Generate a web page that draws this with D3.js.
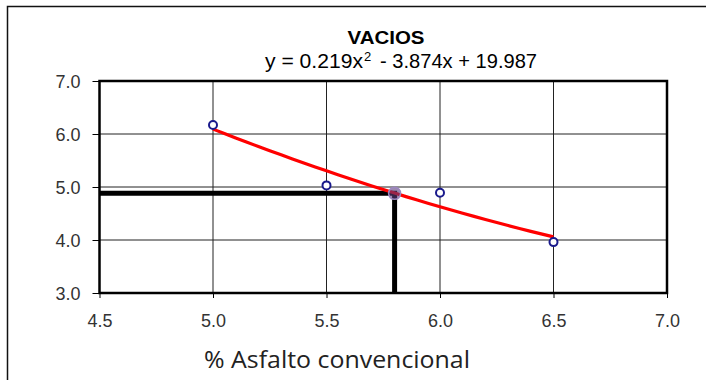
<!DOCTYPE html>
<html><head><meta charset="utf-8">
<script src="https://cdn.jsdelivr.net/npm/d3@7"></script>
<style>body{margin:0;background:#fff}svg{display:block}</style>
</head><body>
<svg id="c" width="710" height="380"></svg>
<script>
const pointsX = [5.0, 5.5, 6.0, 6.5];
const pointsY = [6.17, 5.03, 4.89, 3.96];
const coef = [0.219, -3.874, 19.987];
const optX = 5.8, optY = 4.88;
const xTicks = [4.5, 5.0, 5.5, 6.0, 6.5, 7.0];
const yTicks = [3.0, 4.0, 5.0, 6.0, 7.0];
const title = "VACIOS";
const xLabel = "% Asfalto convencional";

const svg = d3.select("#c");
const L = 99.5, R = 667, T = 81, B = 293;
const x = d3.scaleLinear().domain([4.5, 7.0]).range([L, R]);
const y = d3.scaleLinear().domain([3.0, 7.0]).range([B, T]);
const sans = "Liberation Sans, Arial, sans-serif";

// outer frame
svg.append("path").attr("d", "M7.5,380 V6.5 H706").attr("fill","none").attr("stroke","#111").attr("stroke-width",1.5);

// gridlines
const g = svg.append("g");
g.selectAll(".vg").data(xTicks.slice(1,-1)).enter().append("line")
  .attr("x1", d=>x(d)).attr("x2", d=>x(d)).attr("y1", T).attr("y2", B)
  .attr("stroke","#222").attr("stroke-width",1);
g.selectAll(".hg").data(yTicks.slice(1,-1)).enter().append("line")
  .attr("y1", d=>y(d)).attr("y2", d=>y(d)).attr("x1", L).attr("x2", R)
  .attr("stroke","#222").attr("stroke-width",1);

// axes
const xAxis = d3.axisBottom(x).tickValues(xTicks).tickFormat(d3.format(".1f")).tickSize(5).tickSizeOuter(0);
const yAxis = d3.axisLeft(y).tickValues(yTicks).tickFormat(d3.format(".1f")).tickSize(7).tickSizeOuter(0);
const ax = svg.append("g").attr("transform",`translate(0,${B})`).call(xAxis);
const ay = svg.append("g").attr("transform",`translate(${L},0)`).call(yAxis);
[ax, ay].forEach(a => {
  a.attr("font-size", null).attr("font-family", null);
  a.select(".domain").remove();
  a.selectAll("line").attr("stroke","#000").attr("stroke-width",1);
  a.selectAll("text").style("font-family",sans).style("font-size","19px").attr("fill","#333")
    .attr("textLength",25).attr("lengthAdjust","spacingAndGlyphs");
});
ax.selectAll("text").attr("dy",null).attr("y", 34);
ay.selectAll("text").attr("x", -19).attr("dy","0.36em");

// plot border
svg.append("rect").attr("x",L).attr("y",T).attr("width",R-L).attr("height",B-T)
  .attr("fill","none").attr("stroke","#000").attr("stroke-width",2.5);

// optimum lines
svg.append("path")
  .attr("d", `M${x(4.5)},${y(optY)} H${x(optX)} V${y(3.0)}`)
  .attr("fill","none").attr("stroke","#000").attr("stroke-width",5);

// fitted curve
const f = v => coef[0]*v*v + coef[1]*v + coef[2];
const curveX = d3.range(5.0, 6.5001, 0.05);
svg.append("path").datum(curveX)
  .attr("d", d3.line().x(d=>x(d)).y(d=>y(f(d))))
  .attr("fill","none").attr("stroke","#ff0000").attr("stroke-width",3.2);

// highlighted optimum
svg.append("circle").attr("cx",x(optX)).attr("cy",y(optY)).attr("r",6)
  .attr("fill","#5a3a7a").attr("fill-opacity",0.6).attr("stroke","#9c86c0").attr("stroke-width",1.5);

// data points
svg.selectAll(".pt").data(pointsX).enter().append("circle")
  .attr("cx", d=>x(d)).attr("cy", (d,i)=>y(pointsY[i])).attr("r",4)
  .attr("fill","#fff").attr("stroke","#1a1a8c").attr("stroke-width",2);

// title & equation
svg.append("text").attr("x",386).attr("y",44).attr("text-anchor","middle")
  .attr("font-family",sans).attr("font-weight","bold").attr("font-size",17.5)
  .attr("textLength",77).attr("lengthAdjust","spacingAndGlyphs").attr("fill","#000").text(title);
const eq = svg.append("text").attr("x",265).attr("y",68).attr("text-anchor","start")
  .attr("font-family",sans).attr("font-size",19.5).attr("fill","#000");
eq.append("tspan").attr("textLength",98).attr("lengthAdjust","spacingAndGlyphs").text(`y = ${coef[0]}x`);
eq.append("tspan").attr("x",364).attr("dy",-7).attr("font-size",13).text("2");
eq.append("tspan").attr("dy",7).attr("x",380).attr("textLength",157).attr("lengthAdjust","spacingAndGlyphs")
  .text(`- ${Math.abs(coef[1])}x  + ${coef[2]}`);

// x label
svg.append("text").attr("x",337).attr("y",368).attr("text-anchor","middle")
  .attr("font-family","Open Sans, Noto Sans, sans-serif").attr("font-size",24)
  .attr("textLength",266).attr("lengthAdjust","spacingAndGlyphs").attr("fill","#222").text(xLabel);
</script>
</body></html>
